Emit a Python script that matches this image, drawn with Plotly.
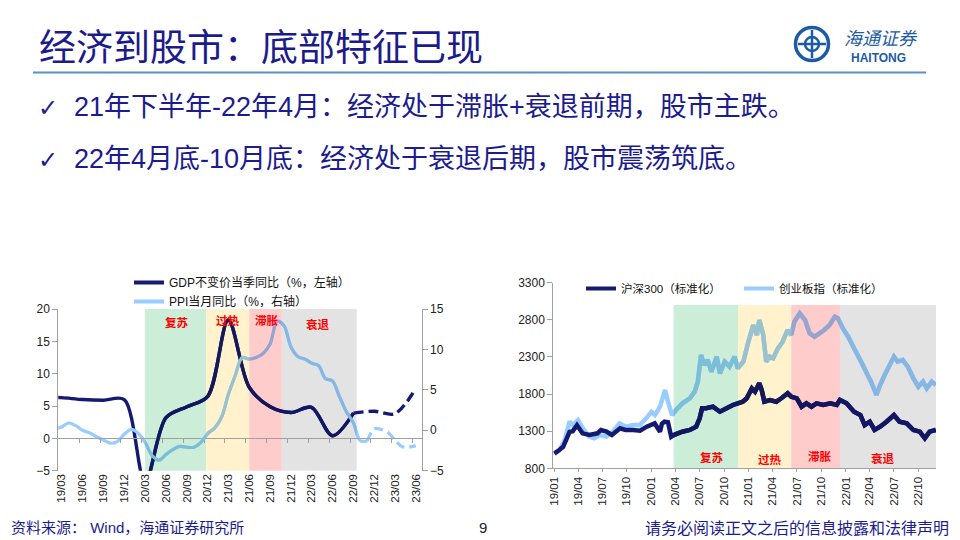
import plotly.graph_objects as go
import pandas as pd

W, H = 960, 540

# ---------------- data: left chart (GDP / PPI) ----------------
GDP_DATES = ["2018-12", "2019-03", "2019-06", "2019-09", "2019-12", "2020-03", "2020-06", "2020-09",
             "2020-12", "2021-03", "2021-06", "2021-09", "2021-12", "2022-03", "2022-06", "2022-09"]
GDP_VALUES = [6.4, 6.3, 6.0, 5.9, 6.0, -6.8, 3.2, 4.9, 6.5, 18.3, 7.9, 4.9, 4.0, 4.8, 0.4, 3.9]
GDP_FC_DATES = ["2022-09", "2022-12", "2023-03", "2023-06"]
GDP_FC_VALUES = [3.9, 4.2, 3.8, 7.7]

PPI_START, PPI_END = "2019-02", "2022-11"
PPI_VALUES = [0.1, 0.4, 0.9, 0.6, 0.0, -0.3, -0.8, -1.2, -1.6, -1.4, -0.5,
              0.1, -0.4, -1.5, -3.1, -3.7, -3.0, -2.4, -2.0, -2.1, -2.1, -1.5, -0.4,
              0.3, 1.7, 4.4, 6.8, 9.0, 8.8, 9.0, 9.5, 10.7, 13.5, 12.9, 10.3,
              9.1, 8.8, 8.3, 8.0, 6.4, 6.1, 4.2, 2.3, 0.9, -1.3, -1.3]
PPI_FC_DATES = ["2022-11", "2022-12", "2023-01", "2023-02", "2023-03", "2023-04", "2023-05", "2023-06"]
PPI_FC_VALUES = [-1.3, 0.2, 0.1, -0.3, -1.2, -2.0, -2.1, -1.9]

L_TICKS = ["19/03", "19/06", "19/09", "19/12", "20/03", "20/06", "20/09", "20/12", "21/03",
           "21/06", "21/09", "21/12", "22/03", "22/06", "22/09", "22/12", "23/03", "23/06"]
L_PHASE_NAMES = ["复苏", "过热", "滞胀", "衰退"]
L_PHASE_BOUNDS = ["2020-03-01", "2020-11-24", "2021-06-01", "2021-10-22", "2022-09-15"]

# ---------------- data: right chart (CSI300 / ChiNext, normalised) ----------------
CSI_DATES = ["2019-01-02", "2019-01-18", "2019-02-04", "2019-02-28", "2019-03-12", "2019-03-28", "2019-04-18",
             "2019-05-13", "2019-06-13", "2019-06-26", "2019-07-17", "2019-08-06", "2019-09-06", "2019-09-26",
             "2019-10-25", "2019-11-20", "2019-12-15", "2020-01-14", "2020-02-03", "2020-02-10", "2020-02-20",
             "2020-03-04", "2020-03-16", "2020-03-25", "2020-04-27", "2020-05-25", "2020-06-18", "2020-07-01",
             "2020-07-10", "2020-07-25", "2020-08-20", "2020-09-15", "2020-10-10", "2020-11-03", "2020-11-21",
             "2020-12-10", "2020-12-25", "2021-01-13", "2021-01-25", "2021-02-10", "2021-02-19", "2021-03-01",
             "2021-03-22", "2021-04-15", "2021-05-04", "2021-05-28", "2021-06-10", "2021-07-01", "2021-07-19",
             "2021-08-06", "2021-08-25", "2021-09-13", "2021-10-08", "2021-11-04", "2021-11-28", "2021-12-10",
             "2022-01-04", "2022-02-01", "2022-02-25", "2022-03-13", "2022-04-01", "2022-04-19", "2022-05-10",
             "2022-06-03", "2022-07-01", "2022-07-22", "2022-08-18", "2022-09-12", "2022-10-06", "2022-10-25",
             "2022-11-12", "2022-12-05"]
CSI_VALUES = [1000, 1040, 1090, 1290, 1300, 1380, 1271,
              1249, 1271, 1316, 1294, 1249, 1339, 1316,
              1316, 1307, 1361, 1406, 1293, 1400, 1428,
              1420, 1226, 1248, 1293, 1316, 1360, 1473,
              1608, 1608, 1630, 1562, 1608, 1653, 1675,
              1697, 1743, 1877, 1832, 1945, 1855, 1697,
              1720, 1697, 1743, 1810, 1765, 1743, 1630,
              1675, 1630, 1675, 1653, 1675, 1653, 1720,
              1675, 1562, 1517, 1383, 1428, 1316, 1360,
              1428, 1518, 1428, 1405, 1316, 1293, 1204,
              1293, 1316]

CYB_DATES = ["2019-01-02", "2019-01-22", "2019-02-10", "2019-02-28", "2019-03-12", "2019-04-01", "2019-04-19",
             "2019-05-13", "2019-06-01", "2019-06-19", "2019-07-16", "2019-08-10", "2019-09-04", "2019-09-29",
             "2019-10-25", "2019-11-19", "2019-12-13", "2020-01-02", "2020-01-15", "2020-01-23", "2020-02-04",
             "2020-02-22", "2020-03-04", "2020-03-19", "2020-04-03", "2020-04-27", "2020-05-25", "2020-06-12",
             "2020-06-24", "2020-07-06", "2020-07-18", "2020-07-31", "2020-08-14", "2020-09-03", "2020-09-15",
             "2020-10-03", "2020-10-21", "2020-11-09", "2020-11-21", "2020-12-12", "2020-12-31", "2021-01-18",
             "2021-02-01", "2021-02-10", "2021-02-25", "2021-03-08", "2021-03-21", "2021-04-03", "2021-04-21",
             "2021-05-09", "2021-05-27", "2021-06-10", "2021-06-22", "2021-07-12", "2021-08-01", "2021-08-18",
             "2021-09-06", "2021-09-24", "2021-10-12", "2021-11-01", "2021-11-21", "2021-12-03", "2021-12-21",
             "2022-01-10", "2022-02-01", "2022-02-18", "2022-03-06", "2022-03-24", "2022-04-06", "2022-04-26",
             "2022-05-10", "2022-05-27", "2022-06-15", "2022-07-01", "2022-07-15", "2022-08-03", "2022-08-22",
             "2022-09-12", "2022-10-01", "2022-10-18", "2022-11-01", "2022-11-20", "2022-12-05"]
CYB_VALUES = [990, 1046, 1181, 1428, 1383, 1450, 1338,
              1226, 1204, 1248, 1226, 1293, 1406, 1360,
              1383, 1383, 1473, 1562, 1517, 1560, 1640,
              1855, 1698, 1517, 1585, 1675, 1743, 1832,
              1967, 2326, 2191, 2259, 2101, 2303, 2080,
              2236, 2169, 2303, 2147, 2236, 2505, 2730,
              2595, 2797, 2595, 2236, 2303, 2281, 2416,
              2505, 2663, 2595, 2775, 2887, 2797, 2618,
              2573, 2618, 2663, 2730, 2842, 2820, 2685,
              2573, 2416, 2303, 2191, 2057, 1967, 1787,
              1922, 2057, 2191, 2303, 2236, 2259, 2169,
              2012, 1900, 1967, 1877, 1967, 1922]

R_TICKS = ["19/01", "19/04", "19/07", "19/10", "20/01", "20/04", "20/07", "20/10",
           "21/01", "21/04", "21/07", "21/10", "22/01", "22/04", "22/07", "22/10"]
R_PHASE_NAMES = ["复苏", "过热", "滞胀", "衰退"]
R_PHASE_BOUNDS = ["2020-03-25", "2020-11-22", "2021-06-10", "2021-12-10", "2022-12-06"]
R_Y_TICKS = [800, 1300, 1800, 2300, 2800, 3300]

# ---------------- styling ----------------
DARK = (20, 26, 112)
LIGHT = (153, 204, 255)
ZONE_COLORS = [(204, 237, 216), (255, 242, 204), (255, 204, 204), (227, 227, 227)]
NAVY = "#1C1C8E"
FONT = "Liberation Sans, Arial, Noto Sans CJK SC, sans-serif"
CJK = "Liberation Sans, Noto Sans CJK SC, sans-serif"
AXIS_GREY = "#A0A0A0"


def rgb(c):
    return "rgb(%d,%d,%d)" % c


def mult(c, z):
    return rgb(tuple(round(a * b / 255) for a, b in zip(c, z)))


def lab2date(t):
    return pd.Timestamp("20%s-%s-01" % (t[:2], t[3:]))


def frac(d, rng, dom):
    t = pd.Timestamp(d).value
    a, b = pd.Timestamp(rng[0]).value, pd.Timestamp(rng[1]).value
    return dom[0] + (t - a) / (b - a) * (dom[1] - dom[0])


def P(px, py):
    return px / W, 1 - py / H


# geometry (paper fractions)
L_DX = [58.3 / W, 421.7 / W]
L_DY = [1 - 470.7 / H, 1 - 309 / H]
L_RANGE = ["2019-02-15", "2023-06-27"]
R_DX = [553.3 / W, 936 / W]
R_DY = [1 - 468.3 / H, 1 - 282.7 / H]
R_RANGE = ["2018-12-29", "2022-12-06"]

gdp_x = [pd.Timestamp(d) for d in GDP_DATES]
gdp_fc_x = [pd.Timestamp(d) for d in GDP_FC_DATES]
ppi_x = list(pd.date_range(PPI_START, PPI_END, freq="MS"))
ppi_fc_x = [pd.Timestamp(d) for d in PPI_FC_DATES]

fig = go.Figure()


def line_trace(x, y, color, width, xa, ya, name=None, legend=None, dash="solid", shape="spline", show=False):
    return go.Scatter(x=x, y=y, mode="lines", name=name, xaxis=xa, yaxis=ya,
                      line=dict(color=color, width=width, dash=dash, shape=shape, smoothing=0.9, simplify=False),
                      showlegend=show, legend=legend, hoverinfo="skip")


# ----- left chart base traces -----
fig.add_trace(line_trace(ppi_x, PPI_VALUES, rgb(LIGHT), 3.2, "x", "y2"))
fig.add_trace(line_trace(ppi_fc_x, PPI_FC_VALUES, rgb(LIGHT), 3.2, "x", "y2", dash="9px,5px"))
fig.add_trace(line_trace(gdp_x, GDP_VALUES, rgb(DARK), 3.4, "x", "y"))
fig.add_trace(line_trace(gdp_fc_x, GDP_FC_VALUES, rgb(DARK), 3.4, "x", "y", dash="10px,5px"))
fig.add_trace(line_trace([None], [None], rgb(DARK), 4, "x", "y", "GDP不变价当季同比（%，左轴）", "legend", show=True))
fig.add_trace(line_trace([None], [None], rgb(LIGHT), 4, "x", "y2", "PPI当月同比（%，右轴）", "legend", show=True))

# ----- right chart base traces -----
fig.add_trace(line_trace(CYB_DATES, CYB_VALUES, rgb(LIGHT), 4.5, "x3", "y3", shape="linear"))
fig.add_trace(line_trace(CSI_DATES, CSI_VALUES, rgb(DARK), 4.5, "x3", "y3", shape="linear"))
fig.add_trace(line_trace([None], [None], rgb(DARK), 4, "x3", "y3", "沪深300（标准化）", "legend2", show=True))
fig.add_trace(line_trace([None], [None], rgb(LIGHT), 4, "x3", "y3", "创业板指（标准化）", "legend2", show=True))

layout_axes = {}
shapes = []
annos = []

# ----- phase zones: shading + colour-multiplied line segments on clipped overlay axes -----
ax_n = 4
for i in range(4):
    z0, z1 = L_PHASE_BOUNDS[i], L_PHASE_BOUNDS[i + 1]
    zc = ZONE_COLORS[i]
    shapes.append(dict(type="rect", xref="x", yref="y domain", x0=z0, x1=z1, y0=0, y1=1,
                       fillcolor=rgb(zc), line=dict(width=0), layer="below"))
    name = "x%d" % ax_n
    layout_axes["xaxis%d" % ax_n] = dict(domain=[frac(z0, L_RANGE, L_DX), frac(z1, L_RANGE, L_DX)],
                                         range=[z0, z1], type="date", visible=False, anchor="y")
    fig.add_trace(line_trace(ppi_x, PPI_VALUES, mult(LIGHT, zc), 3.2, name, "y2"))
    fig.add_trace(line_trace(gdp_x, GDP_VALUES, mult(DARK, zc), 3.4, name, "y"))
    ax_n += 1

for i in range(4):
    z0, z1 = R_PHASE_BOUNDS[i], R_PHASE_BOUNDS[i + 1]
    zc = ZONE_COLORS[i]
    shapes.append(dict(type="rect", xref="x3", yref="y3", x0=z0, x1=z1, y0=800, y1=3000,
                       fillcolor=rgb(zc), line=dict(width=0), layer="below"))
    name = "x%d" % ax_n
    layout_axes["xaxis%d" % ax_n] = dict(domain=[frac(z0, R_RANGE, R_DX), frac(z1, R_RANGE, R_DX)],
                                         range=[z0, z1], type="date", visible=False, anchor="y3")
    fig.add_trace(line_trace(CYB_DATES, CYB_VALUES, mult(LIGHT, zc), 4.5, name, "y3", shape="linear"))
    fig.add_trace(line_trace(CSI_DATES, CSI_VALUES, mult(DARK, zc), 4.5, name, "y3", shape="linear"))
    ax_n += 1

# dummy trace so the zero-line axis is drawn
fig.add_trace(go.Scatter(x=[L_RANGE[0]], y=[None], xaxis="x2", yaxis="y", showlegend=False, hoverinfo="skip"))


def text(px, py, t, size, color, family, xa="center", ya="middle"):
    x, y = P(px, py)
    annos.append(dict(x=x, y=y, xref="paper", yref="paper", xanchor=xa, yanchor=ya, text=t,
                      showarrow=False, font=dict(size=size, color=color, family=family)))


# phase labels
L_LABEL_POS = [(176.7, 322), (228, 320), (266.7, 320), (318, 324)]
R_LABEL_POS = [(712, 457), (770, 459), (820, 456), (883, 458)]
for (px, py), t in zip(L_LABEL_POS, L_PHASE_NAMES):
    text(px, py, "<b>%s</b>" % t, 11.5, "#FF0000", "Noto Sans CJK SC")
for (px, py), t in zip(R_LABEL_POS, R_PHASE_NAMES):
    text(px, py, "<b>%s</b>" % t, 11.5, "#FF0000", "Noto Sans CJK SC")

# ----- slide decoration -----
text(37, 45, "经济到股市：底部特征已现", 37, "#1B1B8A", "Noto Sans CJK SC", xa="left")
x0, y0 = P(33, 72.5)
x1, _ = P(926, 72.5)
shapes.append(dict(type="line", xref="paper", yref="paper", x0=x0, x1=x1, y0=y0, y1=y0,
                   line=dict(color="#5C8FC8", width=2)))
BULLETS = ["21年下半年-22年4月：经济处于滞胀+衰退前期，股市主跌。",
           "22年4月底-10月底：经济处于衰退后期，股市震荡筑底。"]
for t, py in zip(BULLETS, [107, 159]):
    text(48, py + 1, "<b>✓</b>", 24, NAVY, "DejaVu Sans")
    text(72, py, t, 27, NAVY, CJK, xa="left")


# logo
def circ(cx, cy, r, lw):
    a, b = P(cx - r, cy + r)
    c, d = P(cx + r, cy - r)
    shapes.append(dict(type="circle", xref="paper", yref="paper", x0=a, y0=b, x1=c, y1=d,
                       line=dict(color="#1D5BA6", width=lw), fillcolor="white"))


def seg(ax, ay, bx, by, lw):
    a, b = P(ax, ay)
    c, d = P(bx, by)
    shapes.append(dict(type="line", xref="paper", yref="paper", x0=a, y0=b, x1=c, y1=d,
                       line=dict(color="#1D5BA6", width=lw)))


circ(812, 44, 16.5, 3.5)
circ(812, 44, 7, 2.5)
seg(812, 30, 812, 58, 2.5)
seg(798, 44, 826, 44, 2.5)
text(881, 37, "<i>海通证券</i>", 18, "#1D5BA6", "Noto Sans CJK SC")
text(878, 58, "<b>HAITONG</b>", 12, "#1D5BA6", "Liberation Sans")

# footer
text(9, 527, "资料来源： Wind，海通证券研究所", 15, NAVY, CJK, xa="left")
text(483, 527, "9", 15, "#222222", "Liberation Sans")
text(951, 527, "请务必阅读正文之后的信息披露和法律声明", 16, NAVY, "Noto Sans CJK SC", xa="right")

tickfont = dict(size=12, color="#222222", family=FONT)
yax = dict(showgrid=False, zeroline=False, showline=True, linecolor=AXIS_GREY, linewidth=1,
           ticks="outside", ticklen=5, tickcolor=AXIS_GREY, tickfont=tickfont)

zero_pos = L_DY[0] + 0.2 * (L_DY[1] - L_DY[0])
fig.update_layout(
    width=W, height=H, margin=dict(l=0, r=0, t=0, b=0, pad=0, autoexpand=False),
    paper_bgcolor="white", plot_bgcolor="rgba(0,0,0,0)",
    xaxis=dict(domain=L_DX, range=L_RANGE, type="date", anchor="y",
               tickvals=[lab2date(t) for t in L_TICKS], ticktext=L_TICKS, tickangle=-90,
               showgrid=False, zeroline=False, showline=False, ticks="",
               tickfont=dict(size=11.5, color="#222222", family=FONT)),
    xaxis2=dict(overlaying="x", anchor="free", position=zero_pos, range=L_RANGE, type="date",
                tickvals=[lab2date(t) - pd.Timedelta(days=15) for t in L_TICKS], showticklabels=False,
                ticks="outside", ticklen=4, tickcolor=AXIS_GREY, showline=True, linecolor=AXIS_GREY,
                showgrid=False, zeroline=False),
    yaxis=dict(domain=L_DY, range=[-5, 20], tickvals=[-5, 0, 5, 10, 15, 20], anchor="x", **yax),
    yaxis2=dict(overlaying="y", side="right", range=[-5, 15], tickvals=[-5, 0, 5, 10, 15], anchor="x", **yax),
    xaxis3=dict(domain=R_DX, range=R_RANGE, type="date", anchor="y3",
                tickvals=[lab2date(t) for t in R_TICKS], ticktext=R_TICKS, tickangle=-90,
                showgrid=False, zeroline=False, showline=True, linecolor=AXIS_GREY, ticks="outside", ticklen=3,
                tickcolor=AXIS_GREY, tickfont=dict(size=11.5, color="#222222", family=FONT)),
    yaxis3=dict(domain=R_DY, range=[800, 3300], tickvals=R_Y_TICKS, anchor="x3", **yax),
    legend=dict(x=129 / W, y=1 - 268 / H, xanchor="left", yanchor="top", bgcolor="rgba(0,0,0,0)",
                font=dict(size=12, color="#111111", family=CJK), tracegroupgap=0, itemwidth=30),
    legend2=dict(x=581 / W, y=1 - 274 / H, xanchor="left", yanchor="top", orientation="h", bgcolor="rgba(0,0,0,0)",
                 font=dict(size=11.5, color="#111111", family=CJK), entrywidth=113, itemwidth=30),
    shapes=shapes, annotations=annos,
    **layout_axes,
)

fig.write_html("out.html", config={"displayModeBar": False, "staticPlot": True},
               post_script="document.body.style.margin='0px';document.body.style.overflow='hidden';")
